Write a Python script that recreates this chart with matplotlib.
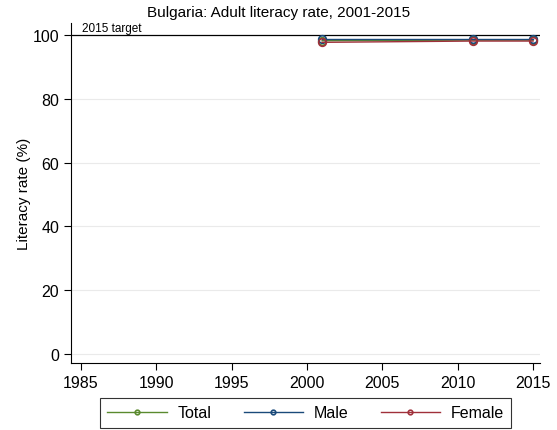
import matplotlib.pyplot as plt

plt.rcParams['font.family'] = ['Liberation Sans', 'DejaVu Sans']

years = [2001, 2011, 2015]
total = [98.2, 98.4, 98.4]
male = [98.7, 98.7, 98.7]
female = [97.7, 98.1, 98.1]
target = 100

fig = plt.figure(figsize=(5.57, 4.31), dpi=100)
ax = fig.add_axes([71 / 557, 1 - 364 / 431, (540 - 71) / 557, (364 - 24) / 431])

for yv in [0, 20, 40, 60, 80]:
    ax.axhline(yv, color='#eaeaea', lw=0.8, zorder=0)
ax.axhline(target, color='black', lw=0.9, zorder=1)
ax.text(1985.1, target + 0.3, '2015 target', fontsize=8.5, va='bottom', ha='left')

series = [('Total', total, '#5a8a2e'), ('Male', male, '#1a4a7a'), ('Female', female, '#a0303a')]
for name, vals, col in series:
    ax.plot(years, vals, color=col, lw=1, marker='o', ms=5.5, mfc='none', mec=col, mew=1.2, label=name)

ax.set_xlim(1984.34, 2015.46)
ax.set_ylim(-2.82, 103.76)
ax.set_xticks(range(1985, 2016, 5))
ax.set_yticks(range(0, 101, 20))
ax.tick_params(labelsize=11.5, length=5, width=0.8, direction='out')
for s in ['top', 'right']:
    ax.spines[s].set_visible(False)
ax.set_ylabel('Literacy rate (%)', fontsize=11, labelpad=1)
fig.suptitle('Bulgaria: Adult literacy rate, 2001-2015', fontsize=11, x=0.5, y=0.985, va='top')

handles, labels = ax.get_legend_handles_labels()
leg = fig.legend(handles, labels, loc='lower center', bbox_to_anchor=(0.549, 0.0), ncol=3, fontsize=11.5,
                 frameon=True, fancybox=False, edgecolor='black', handlelength=3.7,
                 handletextpad=0.7, columnspacing=2.0, borderpad=0.45, markerscale=0.6,
                 borderaxespad=0.15)
leg.get_frame().set_linewidth(0.8)

plt.savefig('out.png', dpi=100)
